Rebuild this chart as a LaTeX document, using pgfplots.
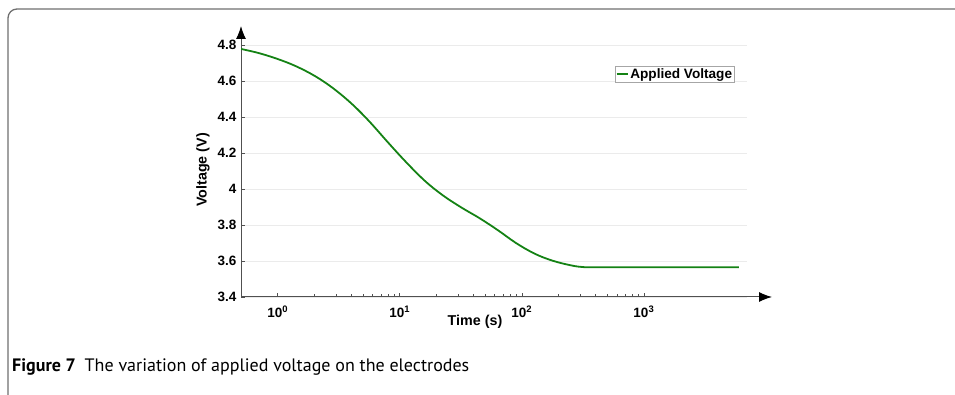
\documentclass[border=0pt]{standalone}
\usepackage{fontspec}
\setmainfont{Liberation Sans}
\newfontfamily\capfont{PT Sans}
\usepackage{pgfplots}
\pgfplotsset{compat=1.18}
\usetikzlibrary{arrows.meta}
\definecolor{mygreen}{RGB}{20,130,20}
\definecolor{axgray}{RGB}{80,80,80}
\definecolor{gridgray}{RGB}{235,235,235}
\definecolor{framegray}{RGB}{110,110,110}
\begin{document}
\begin{tikzpicture}[x=1pt,y=1pt]
\path[use as bounding box] (0,0) rectangle (955,395);
\draw[framegray, line width=1.3pt, rounded corners=9pt] (8,-2) -- (8,386) -- (957,386);
\begin{axis}[
  at={(241pt,98pt)}, anchor=south west,
  scale only axis, width=506pt, height=252pt,
  xmode=log, xmin=0.5, xmax=7000,
  ymin=3.4, ymax=4.8,
  axis x line=bottom, axis y line=left,
  x axis line style={draw=axgray, line width=1pt, -{Latex[length=13pt,width=10pt,black]}, shorten >=-25pt},
  y axis line style={draw=axgray, line width=1pt, -{Latex[length=13pt,width=10pt,black]}, shorten >=-19pt},
  tick align=inside,
  tick style={axgray, line width=0.6pt},
  major tick length=4pt, minor tick length=2.5pt,
  xtick={1,10,100,1000},
  xticklabels={10\textsuperscript{0},10\textsuperscript{1},10\textsuperscript{2},10\textsuperscript{3}},
  ytick={3.4,3.6,3.8,4,4.2,4.4,4.6,4.8},
  yticklabels={3.4,3.6,3.8,4,4.2,4.4,4.6,4.8},
  ymajorgrids, grid style={gridgray, line width=0.9pt},
  ticklabel style={font=\bfseries\fontsize{13.5}{15}\selectfont},
  xticklabel style={yshift=-5pt},
  yticklabel style={xshift=-1pt},
  xlabel={Time (s)}, ylabel={Voltage (V)},
  label style={font=\bfseries\fontsize{14.3}{16}\selectfont},
  xlabel style={at={(axis description cs:0.4625,-0.099)}, anchor=center},
  ylabel style={at={(axis description cs:-0.075,0.504)}, anchor=center},
  legend style={at={(axis description cs:0.739,0.918)}, anchor=north west,
    draw=gray!70, line width=0.6pt, inner sep=0.5pt, font=\bfseries\fontsize{13.6}{15}\selectfont},
  legend cell align=left,
  legend image code/.code={\draw[#1, line width=1.6pt] (0pt,0pt) -- (11pt,0pt);},
]
\addplot[mygreen, line width=1.8pt, smooth, tension=0.6, line join=round] coordinates {
(0.5,4.778) (0.7,4.755) (1.0,4.722) (1.4,4.683) (2.0,4.629) (2.8,4.563)
(4.0,4.476) (5.6,4.377) (8,4.259) (11.2,4.151) (16,4.046) (22.4,3.966)
(32,3.897) (45,3.838) (64,3.770) (90,3.699) (128,3.640) (180,3.601)
(256,3.575) (320,3.566) (400,3.565) (1000,3.565) (6000,3.565)
};
\addlegendentry{Applied Voltage}
\end{axis}
\node[anchor=base west, inner sep=0pt] at (12,23) {\capfont\fontsize{18}{20}\selectfont\textbf{Figure 7}\hspace{9pt}The variation of applied voltage on the electrodes};
\end{tikzpicture}
\end{document}
